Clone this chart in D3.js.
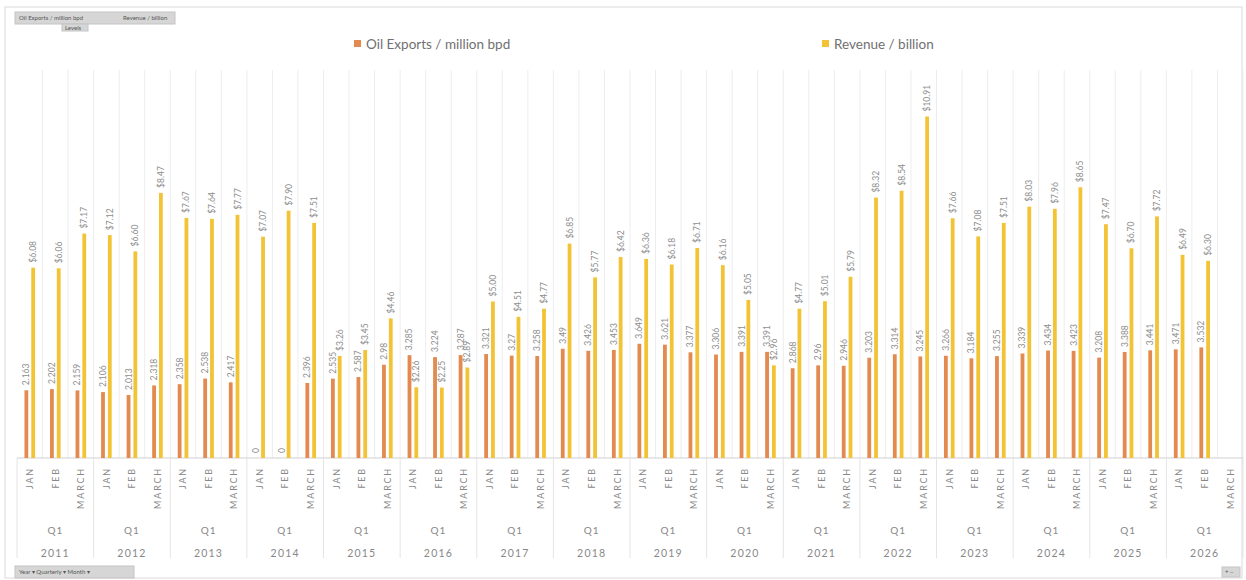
<!DOCTYPE html>
<meta charset="utf-8">
<head>
  <script src="https://d3js.org/d3.v7.min.js"></script>
</head>
<style>
body { margin: 0; background: #fff; font-family: Lato, "Open Sans", sans-serif; }
.lbl { font-size: 8.5px; fill: #8e8e8e; }
.grid { stroke: #ededed; stroke-width: 1; }
.axis-txt { fill: #888; }
.btn { fill: #d6d6d6; stroke: #c4c4c4; }
.btn-txt { font-size: 6px; fill: #555; }
</style>
<body>
<svg width="1246" height="580" id="chart"></svg>
<script>

var years = ['2011','2012','2013','2014','2015','2016','2017','2018','2019','2020','2021','2022','2023','2024','2025','2026'];
var months = ['JAN','FEB','MARCH'];
var quarter = 'Q1';

// million bpd, one per month (null = no data)
var oilExports = [
  2.163, 2.202, 2.159,
  2.106, 2.013, 2.318,
  2.358, 2.538, 2.417,
  0, 0, 2.396,
  2.535, 2.587, 2.98,
  3.285, 3.224, 3.287,
  3.321, 3.27, 3.258,
  3.49, 3.426, 3.453,
  3.649, 3.621, 3.377,
  3.306, 3.391, 3.391,
  2.868, 2.96, 2.946,
  3.203, 3.314, 3.245,
  3.266, 3.184, 3.255,
  3.339, 3.434, 3.423,
  3.208, 3.388, 3.441,
  3.471, 3.532, null
];

// billion $
var revenue = [
  6.08, 6.06, 7.17,
  7.12, 6.60, 8.47,
  7.67, 7.64, 7.77,
  7.07, 7.90, 7.51,
  3.26, 3.45, 4.46,
  2.26, 2.25, 2.89,
  5.00, 4.51, 4.77,
  6.85, 5.77, 6.42,
  6.36, 6.18, 6.71,
  6.16, 5.05, 2.96,
  4.77, 5.01, 5.79,
  8.32, 8.54, 10.91,
  7.66, 7.08, 7.51,
  8.03, 7.96, 8.65,
  7.47, 6.70, 7.72,
  6.49, 6.30, null
];

var seriesNames = ['Oil Exports / million bpd', 'Revenue / billion'];
var colors = ['#e38a50', '#f3c336'];

var svg = d3.select('#chart');

var plotLeft = 17, plotRight = 1243, plotTop = 70, baseline = 458;

// flatten the categories
var cats = [];
years.forEach(function(y, yi) {
  months.forEach(function(m, mi) {
    var i = yi * months.length + mi;
    cats.push({key: y + '-' + m, year: y, month: m, oil: oilExports[i], rev: revenue[i]});
  });
});

var xScale = d3.scaleBand()
  .domain(cats.map(function(d) { return d.key; }))
  .range([plotLeft, plotRight])
  .padding(0);

var yearScale = d3.scaleBand().domain(years).range([plotLeft, plotRight]);

var yScale = d3.scaleLinear().domain([0, 12]).range([baseline, baseline - 375.6]);

// outer border
svg.append('rect')
   .attr('x', 5).attr('y', 7).attr('width', 1237).attr('height', 571)
   .attr('fill', 'none').attr('stroke', '#dadada');

// gridlines at category boundaries
var bw = xScale.bandwidth();
svg.selectAll('.grid')
   .data(cats)
   .enter().append('line')
   .attr('class', 'grid')
   .attr('x1', function(d) { return xScale(d.key) + bw; })
   .attr('x2', function(d) { return xScale(d.key) + bw; })
   .attr('y1', plotTop)
   .attr('y2', baseline);

// baseline
svg.append('line')
   .attr('x1', plotLeft).attr('x2', plotRight)
   .attr('y1', baseline).attr('y2', baseline)
   .attr('stroke', '#d0d0d0');

var barW = 3.8;

function drawSeries(field, color, offset, fmt) {
  var data = cats.filter(function(d) { return d[field] != null; });
  svg.selectAll('.bar-' + field)
     .data(data)
     .enter().append('rect')
     .attr('class', 'bar-' + field)
     .attr('x', function(d) { return xScale(d.key) + bw / 2 + offset - barW / 2; })
     .attr('y', function(d) { return yScale(d[field]); })
     .attr('width', barW)
     .attr('height', function(d) { return baseline - yScale(d[field]); })
     .attr('fill', color);

  svg.selectAll('.lbl-' + field)
     .data(data)
     .enter().append('text')
     .attr('class', 'lbl')
     .attr('text-anchor', 'start')
     .attr('transform', function(d) {
       var x = xScale(d.key) + bw / 2 + offset + 3;
       var y = yScale(d[field]) - 5;
       return 'translate(' + x + ',' + y + ') rotate(-90)';
     })
     .text(function(d) { return fmt(d[field]); });
}

drawSeries('oil', colors[0], -3.4, function(v) { return String(v); });
drawSeries('rev', colors[1], 3.4, function(v) { return '$' + v.toFixed(2); });

// month labels
svg.selectAll('.month')
   .data(cats)
   .enter().append('text')
   .attr('class', 'axis-txt')
   .attr('font-size', '9px')
   .attr('letter-spacing', '1.8px')
   .attr('text-anchor', 'end')
   .attr('transform', function(d) {
     return 'translate(' + (xScale(d.key) + bw / 2 + 3.3) + ',' + 467 + ') rotate(-90)';
   })
   .text(function(d) { return d.month; });

// year separators
svg.selectAll('.ysep')
   .data(years.concat(['end']))
   .enter().append('line')
   .attr('x1', function(d, i) { return plotLeft + i * yearScale.bandwidth(); })
   .attr('x2', function(d, i) { return plotLeft + i * yearScale.bandwidth(); })
   .attr('y1', baseline)
   .attr('y2', 558)
   .attr('stroke', '#e4e4e4');

svg.selectAll('.qtr')
   .data(years)
   .enter().append('text')
   .attr('class', 'axis-txt')
   .attr('font-size', '10px')
   .attr('letter-spacing', '1px')
   .attr('text-anchor', 'middle')
   .attr('x', function(d) { return yearScale(d) + yearScale.bandwidth() / 2; })
   .attr('y', 534)
   .text(quarter);

svg.selectAll('.yr')
   .data(years)
   .enter().append('text')
   .attr('class', 'axis-txt')
   .attr('font-size', '10.5px')
   .attr('letter-spacing', '1.2px')
   .attr('text-anchor', 'middle')
   .attr('x', function(d) { return yearScale(d) + yearScale.bandwidth() / 2; })
   .attr('y', 557)
   .text(function(d) { return d; });

// legend
var legendX = [354, 822];
seriesNames.forEach(function(name, i) {
  svg.append('rect')
     .attr('x', legendX[i]).attr('y', 40)
     .attr('width', 7).attr('height', 7)
     .attr('fill', colors[i]);
  svg.append('text')
     .attr('x', legendX[i] + 12).attr('y', 48.5)
     .attr('font-size', '13.5px')
     .attr('fill', '#707070')
     .text(name);
});

// pivot field buttons
svg.append('rect').attr('class', 'btn').attr('x', 15).attr('y', 12).attr('width', 160).attr('height', 12);
svg.append('text').attr('class', 'btn-txt').attr('x', 19).attr('y', 20).text('Oil Exports / million bpd');
svg.append('text').attr('class', 'btn-txt').attr('x', 123).attr('y', 20).text('Revenue / billion');
svg.append('rect').attr('class', 'btn').attr('x', 62).attr('y', 24).attr('width', 26).attr('height', 7);
svg.append('text').attr('class', 'btn-txt').attr('x', 65).attr('y', 30).attr('font-size', '5px').text('Levels');

svg.append('rect').attr('class', 'btn').attr('x', 15).attr('y', 566).attr('width', 119).attr('height', 12);
svg.append('text').attr('class', 'btn-txt').attr('x', 19).attr('y', 574).text('Year  \u25BE  Quarterly  \u25BE  Month  \u25BE');

svg.append('rect').attr('class', 'btn').attr('x', 1222).attr('y', 567).attr('width', 18).attr('height', 10);
svg.append('text').attr('class', 'btn-txt').attr('x', 1225).attr('y', 574).text('+ \u2212');

</script>
</body>
